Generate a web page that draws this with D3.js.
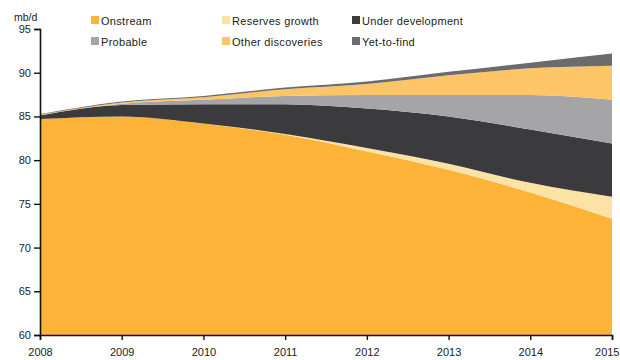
<!DOCTYPE html>
<html>
<head>
<meta charset="utf-8">
<script src="https://cdn.jsdelivr.net/npm/d3@7"></script>
<style>
  html, body { margin: 0; padding: 0; background: #fff; }
  svg { display: block; }
  text { font-family: "Liberation Sans", Arial, sans-serif; fill: #222; }
</style>
</head>
<body>
<svg id="chart" width="620" height="360"></svg>
<script>
// Oil supply outlook by source, mb/d
const years = [2008, 2009, 2010, 2011, 2012, 2013, 2014, 2015];
const onstream          = [84.7, 85.0, 84.2, 82.9, 81.0, 78.9, 76.3, 73.3];
const reservesGrowth    = [0.0, 0.0, 0.0, 0.1, 0.4, 0.7, 1.1, 2.5];
const underDevelopment  = [0.4, 1.3, 2.2, 3.4, 4.5, 5.4, 6.1, 6.1];
const probable          = [0.05, 0.15, 0.5, 0.95, 1.55, 2.45, 3.95, 5.0];
const otherDiscoveries  = [0.05, 0.15, 0.3, 0.75, 1.25, 2.25, 3.05, 3.9];
const yetToFind         = [0.05, 0.1, 0.15, 0.2, 0.3, 0.4, 0.65, 1.4];
const yTicks = [60, 65, 70, 75, 80, 85, 90, 95];

const series = [
  { key: "Onstream",          values: onstream,         color: "#fdb338" },
  { key: "Reserves growth",   values: reservesGrowth,   color: "#fde2a6" },
  { key: "Under development", values: underDevelopment, color: "#3b3b3d" },
  { key: "Probable",          values: probable,         color: "#a5a5a7" },
  { key: "Other discoveries", values: otherDiscoveries, color: "#fdc565" },
  { key: "Yet-to-find",       values: yetToFind,        color: "#6b6b6d" }
];

const rows = years.map((yr, i) => {
  const r = { year: yr };
  series.forEach(s => { r[s.key] = s.values[i]; });
  return r;
});

const svg = d3.select("#chart");
const margin = { left: 40, right: 8, top: 29, bottom: 25 };
const W = 620, H = 360;

const x = d3.scaleLinear().domain([2008, 2015]).range([margin.left, W - margin.right]);
const y = d3.scaleLinear().domain([60, 95]).range([H - margin.bottom, margin.top]);

const stack = d3.stack().keys(series.map(s => s.key));
const stacked = stack(rows);

const area = d3.area()
  .x(d => x(d.data.year))
  .y0(d => y(Math.max(60, d[0])))
  .y1(d => y(d[1]))
  .curve(d3.curveMonotoneX);

// stacked layers; the bottom layer is filled down to the axis floor
svg.append("g").selectAll("path")
  .data(stacked)
  .join("path")
  .attr("d", (layer, i) => {
    if (i === 0) {
      return d3.area()
        .x(d => x(d.data.year))
        .y0(y(60))
        .y1(d => y(d[1]))
        .curve(d3.curveMonotoneX)(layer);
    }
    return area(layer);
  })
  .attr("fill", (d, i) => series[i].color);

// y axis
const yAxis = svg.append("g")
  .attr("transform", `translate(${margin.left},0)`)
  .call(d3.axisLeft(y).tickValues(yTicks).tickSize(6).tickPadding(3));
yAxis.select(".domain").attr("stroke", "#111").attr("stroke-width", 1.6);
yAxis.selectAll(".tick line").attr("stroke", "#111").attr("stroke-width", 1.4);
yAxis.selectAll(".tick text").style("font-size", "11px").attr("fill", "#222")
  .style("font-family", "'Liberation Sans', Arial, sans-serif");

// x axis
const xAxis = svg.append("g")
  .attr("transform", `translate(0,${H - margin.bottom})`)
  .call(d3.axisBottom(x).tickValues(years).tickFormat(d3.format("d")).tickSize(5).tickPadding(8));
xAxis.select(".domain").attr("stroke", "#111").attr("stroke-width", 1.6);
xAxis.selectAll(".tick line").attr("stroke", "#111").attr("stroke-width", 1.4);
xAxis.selectAll(".tick text").style("font-size", "11px").attr("fill", "#222")
  .style("font-family", "'Liberation Sans', Arial, sans-serif");
// keep the last year label inside the frame
xAxis.selectAll(".tick text").filter(d => d === 2015)
  .attr("text-anchor", "end").attr("dx", "7");

// unit label
svg.append("text").attr("x", 14).attr("y", 21).style("font-size", "10.5px").text("mb/d");

// legend, two rows of three
const legendCols = [91, 222, 352];
const legendRows = [21, 42];
const legendOrder = ["Onstream", "Reserves growth", "Under development",
                     "Probable", "Other discoveries", "Yet-to-find"];
const lg = svg.append("g");
legendOrder.forEach((key, i) => {
  const s = series.find(d => d.key === key);
  const cx = legendCols[i % 3], cy = legendRows[Math.floor(i / 3)];
  lg.append("rect").attr("x", cx).attr("y", cy - 5).attr("width", 8).attr("height", 8)
    .attr("fill", s.color);
  lg.append("text").attr("x", cx + 10).attr("y", cy + 3.5)
    .style("font-size", "11px").style("letter-spacing", "0.3px").text(key);
});
</script>
</body>
</html>
